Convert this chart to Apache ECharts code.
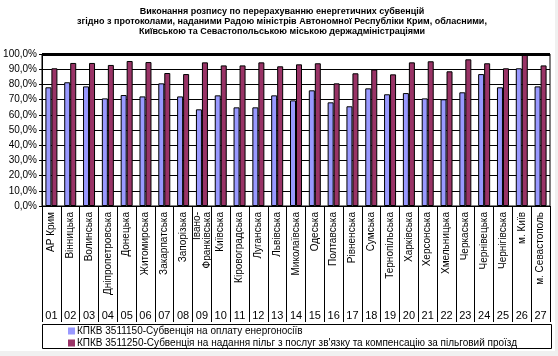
<!DOCTYPE html>
<html>
<head>
<meta charset="utf-8">
<script src="https://cdn.jsdelivr.net/npm/echarts@6/dist/echarts.min.js"></script>
<style>
html,body{margin:0;padding:0;background:#f0f0f0;}
#c{width:555px;height:351px;background:#fff;}
</style>
</head>
<body>
<div id="c"></div>
<script>
var titleLines = [
  'Виконання розпису по перерахуванню енергетичних субвенцій',
  'згідно з протоколами, наданими Радою міністрів Автономної Республіки Крим, обласними,',
  'Київською та Севастопольською міською держадміністраціями'
];
var regions = ['АР Крим','Вінницька','Волинська','Дніпропетровська','Донецька','Житомирська','Закарпатська','Запорізька','Івано-\nФранківська','Київська','Кіровоградська','Луганська','Львівська','Миколаївська','Одеська','Полтавська','Рівненська','Сумська','Тернопільська','Харківська','Херсонська','Хмельницька','Черкаська','Чернівецька','Чернігівська','м. Київ','м. Севастополь'];
var codes = ['01','02','03','04','05','06','07','08','09','10','11','12','13','14','15','16','17','18','19','20','21','22','23','24','25','26','27'];
var seriesNames = ['КПКВ 3511150-Субвенція на оплату енергоносіїв','КПКВ 3511250-Субвенція на надання пільг з послуг зв\'язку та компенсацію за пільговий проїзд'];
var energy = [78.1,81.4,78.7,70.8,73.0,72.1,80.7,72.1,63.6,72.8,64.9,64.9,72.8,69.5,76.1,68.2,65.6,77.4,73.5,74.3,70.8,70.2,74.8,86.8,78.1,90.6,78.7];
var benefits = [90.6,94.1,94.1,92.8,95.4,94.7,87.5,86.8,94.5,92.5,92.5,94.5,91.9,93.2,93.9,80.7,87.3,89.8,86.6,94.5,95.2,88.6,96.5,93.9,90.6,100,92.5];

var FONT = 'Liberation Sans, Arial, sans-serif';
var chart = echarts.init(document.getElementById('c'));
chart.setOption({
  animation: false,
  textStyle: {fontFamily: FONT},
  title: {
    text: titleLines.join('\n'),
    left: 277, textAlign: 'center', top: 2,
    textStyle: {fontSize: 9, fontWeight: 'bold', color: '#000', lineHeight: 10, fontFamily: FONT}
  },
  grid: {left: 42, right: 5, top: 54, bottom: 145, show: true, borderColor: '#000', borderWidth: 1},
  legend: {
    data: seriesNames,
    orient: 'vertical', left: 68, top: 326,
    itemWidth: 7, itemHeight: 7, itemGap: 2, icon: 'rect',
    padding: 0,
    itemStyle: {borderWidth: 0},
    textStyle: {fontSize: 10, color: '#000', padding: [0,0,0,-3], fontFamily: FONT}
  },
  graphic: [{
    type: 'rect', left: 42, top: 324, z: -1,
    shape: {width: 509, height: 24},
    style: {fill: '#fff', stroke: '#000', lineWidth: 1}
  }],
  xAxis: [{
    type: 'category', data: regions, position: 'bottom',
    axisLine: {lineStyle: {color: '#000', width: 1}},
    axisTick: {show: true, interval: 0, length: 116, lineStyle: {color: '#000'}},
    axisLabel: {interval: 0, rotate: 90, fontSize: 10, color: '#000', margin: 6, lineHeight: 10, fontFamily: FONT}
  },{
    type: 'category', data: codes, position: 'bottom', offset: 100,
    axisLine: {show: false}, axisTick: {show: false},
    axisLabel: {interval: 0, fontSize: 11, color: '#000', margin: 4, fontFamily: FONT}
  }],
  yAxis: {
    type: 'value', min: 0, max: 100, interval: 10,
    axisLine: {show: true, lineStyle: {color: '#000'}},
    axisTick: {show: true, length: 3, lineStyle: {color: '#000'}},
    splitLine: {lineStyle: {color: '#000', width: 1}},
    axisLabel: {fontSize: 10, color: '#000', margin: 5, fontFamily: FONT,
      formatter: function (v) { return v.toFixed(1).replace('.', ',') + '%'; }}
  },
  series: [{
    name: seriesNames[0], type: 'bar', data: energy, xAxisIndex: 0,
    barWidth: 6, barGap: '0%',
    itemStyle: {color: '#9999FF', borderColor: '#000', borderWidth: 1},
    markLine: {silent: true, symbol: 'none', label: {show: false},
      lineStyle: {color: '#000', width: 3, type: 'solid'}, data: [{yAxis: 100}]}
  },{
    name: seriesNames[1], type: 'bar', data: benefits, xAxisIndex: 0,
    barWidth: 6, barGap: '0%',
    itemStyle: {color: '#993366', borderColor: '#000', borderWidth: 1}
  }]
});
</script>
</body>
</html>
